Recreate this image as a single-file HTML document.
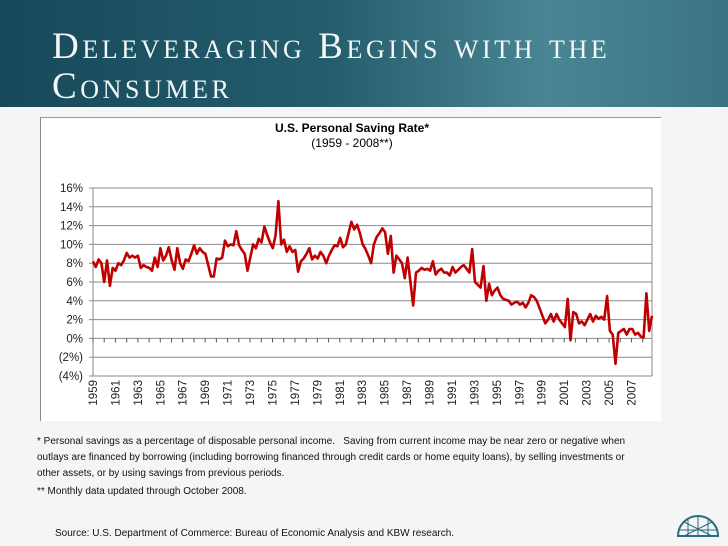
<!DOCTYPE html>
<html><head><meta charset="utf-8">
<style>
body{margin:0;width:728px;height:546px;overflow:hidden;background:#f3f5f6;font-family:"Liberation Sans",sans-serif;position:relative}
#hdr{position:absolute;left:0;top:0;width:728px;height:107px;background:linear-gradient(90deg,#17495a 0%,#245d6d 45%,#4a8593 75%,#3a7483 100%)}
#hdr h1{position:absolute;left:52px;top:27px;margin:0;font-family:"Liberation Serif",serif;font-weight:normal;font-variant:small-caps;color:#f4f7f7;font-size:37px;line-height:40px;letter-spacing:3.6px;white-space:nowrap}
#box{position:absolute;left:40px;top:117px;width:620px;height:303px;background:#fff;border-left:1px solid #888;border-top:1px solid #999}
.note{position:absolute;left:37px;font-size:10px;color:#111;line-height:16px;width:600px}
</style></head><body>
<div id="hdr"><h1>Deleveraging Begins with the<br>Consumer</h1></div>
<div id="box"></div>
<svg id="chart" width="728" height="546" style="position:absolute;left:0;top:0">
<text x="352" y="132" text-anchor="middle" font-size="12" font-weight="bold" font-family="Liberation Sans Narrow, Liberation Sans, sans-serif">U.S. Personal Saving Rate*</text>
<text x="352" y="147" text-anchor="middle" font-size="12" font-family="Liberation Sans Narrow, Liberation Sans, sans-serif">(1959 - 2008**)</text>
<g id="grid"></g><g id="ticks"></g><g id="ylab"></g><g id="xlab"></g><g id="line"></g>
</svg>
<div class="note" style="top:434px">* Personal savings as a percentage of disposable personal income.&nbsp;&nbsp; Saving from current income may be near zero or negative when outlays are financed by borrowing (including borrowing financed through credit cards or home equity loans), by selling investments or other assets, or by using savings from previous periods.</div>
<div class="note" style="top:484px">** Monthly data updated through October 2008.</div>
<div class="note" style="top:526px;left:55px">Source: U.S. Department of Commerce: Bureau of Economic Analysis and KBW research.</div>
<svg width="44" height="30" style="position:absolute;left:676px;top:508px">
<path d="M2 28 A20 20 0 0 1 42 28 Z" fill="none" stroke="#2d6d7c" stroke-width="2"/>
<path d="M22 8 L22 28 M8 14 L36 28 M36 14 L8 28 M2 22 L42 22 M12 10 L12 28 M32 10 L32 28" stroke="#2d6d7c" stroke-width="1"/>
</svg>
<script>
const yTicks=[16,14,12,10,8,6,4,2,0,-2,-4];
const yTickLabels=["16%","14%","12%","10%","8%","6%","4%","2%","0%","(2%)","(4%)"];
const yearLabels=[1959,1961,1963,1965,1967,1969,1971,1973,1975,1977,1979,1981,1983,1985,1987,1989,1991,1993,1995,1997,1999,2001,2003,2005,2007];
const startYear=1959, endYear=2008.83;
const savingRate=[
8.2,7.6,8.4,8.0, 6.0,8.3,5.6,7.5, 7.2,8.0,7.8,8.3, 9.1,8.6,8.8,8.6, 8.8,7.5,7.8,7.6,
7.5,7.2,8.6,7.6, 9.6,8.3,8.8,9.7, 8.3,7.3,9.6,8.0, 7.4,8.4,8.2,9.0, 9.9,9.0,9.6,9.2,
9.0,7.8,6.6,6.6, 8.5,8.4,8.6,10.4, 9.8,10.0,9.9,11.4, 9.9,9.4,9.0,7.2, 8.6,10.0,9.6,10.6,
10.2,11.9,11.0,10.2, 9.6,11.0,14.6,10.0, 10.5,9.2,9.8,9.2, 9.4,7.1,8.2,8.5, 9.0,9.6,8.4,8.8,
8.5,9.2,8.8,8.0, 8.8,9.4,9.9,9.8, 10.7,9.7,10.0,11.2, 12.4,11.6,12.1,11.2, 10.0,9.5,8.8,8.0,
10.0,10.8,11.2,11.7, 11.3,9.0,10.9,7.0, 8.8,8.4,8.0,6.4, 8.6,6.0,3.5,7.0, 7.2,7.5,7.3,7.4,
7.2,8.2,6.8,7.2, 7.4,7.0,7.0,6.7, 7.6,7.0,7.3,7.6, 7.8,7.4,7.0,9.5, 6.0,5.7,5.4,7.7,
4.0,5.8,4.6,5.1, 5.4,4.6,4.2,4.1, 4.0,3.6,3.8,3.9, 3.6,3.8,3.3,3.8, 4.6,4.4,4.0,3.2,
2.4,1.6,2.0,2.6, 1.8,2.6,2.0,1.6, 1.2,4.2,-0.2,2.8, 2.6,1.6,1.8,1.4, 2.0,2.6,1.8,2.4,
2.1,2.3,2.0,4.5, 0.8,0.4,-2.7,0.6, 0.8,1.0,0.4,1.0, 1.0,0.4,0.6,0.2, 0.1,4.8,0.8,2.4];
const NS="http://www.w3.org/2000/svg";
const X0=93,X1=652,Y16=188,Ym4=376;
function xs(t){return X0+(t-startYear)/(endYear-startYear)*(X1-X0);}
function ys(v){return Y16+(16-v)/20*(Ym4-Y16);}
function mk(tag,attrs,parent){const e=document.createElementNS(NS,tag);for(const k in attrs)e.setAttribute(k,attrs[k]);document.getElementById(parent).appendChild(e);return e;}
yTicks.forEach((v,i)=>{
 const l=mk('line',{x1:X0-4,x2:X1,y1:ys(v),y2:ys(v),stroke:'#8a8a8a','stroke-width':1},'grid');
 
 
 const t=mk('text',{x:X0-10,y:ys(v)+4,'text-anchor':'end','font-size':11.5,fill:'#222'},'ylab');
 t.textContent=yTickLabels[i];
 
 
});
mk('line',{x1:X0,x2:X0,y1:Y16,y2:Ym4,stroke:'#8a8a8a'},'grid');
mk('line',{x1:X1,x2:X1,y1:Y16,y2:Ym4,stroke:'#8a8a8a'},'grid');
for(let y=startYear;y<=2008;y++){mk('line',{x1:xs(y),x2:xs(y),y1:ys(0),y2:ys(0)+4,stroke:'#555'},'ticks');}
yearLabels.forEach(y=>{
 const x=xs(y)+4,yy=380;
 const t=mk('text',{x:x,y:yy,transform:`rotate(-90 ${x} ${yy})`,'text-anchor':'end','font-size':11.5,fill:'#222'},'xlab');
 t.textContent=y;
 
 
});
const n=savingRate.length;
const pts=savingRate.map((v,i)=>xs(startYear+i*(endYear-startYear)/(n-1)).toFixed(1)+','+ys(v).toFixed(1)).join(' ');
const p=mk('polyline',{points:pts,fill:'none',stroke:'#c00000','stroke-width':2.6,'stroke-linejoin':'round'},'line');


</script>
</body></html>
